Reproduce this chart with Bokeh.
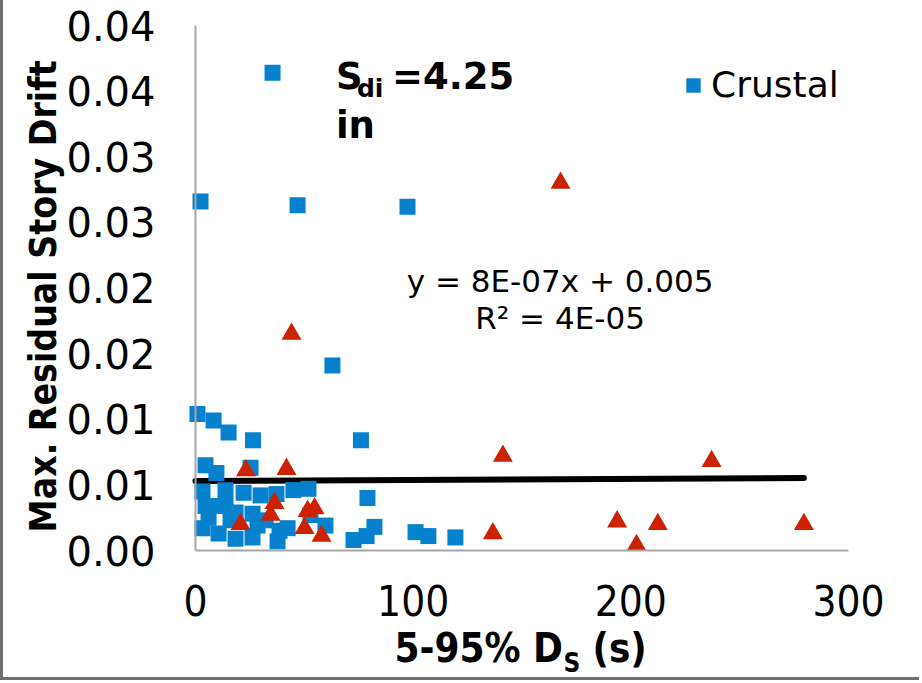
import math
from bokeh.plotting import figure
from bokeh.models import Label, Legend, LegendItem, FixedTicker, Range1d
from bokeh.embed import file_html
from bokeh.resources import INLINE

# Crustal records: 5-95% significant duration (s) vs. max residual story drift
crustal_ds = [35.4, 2.3, 46.9, 97.4, 62.9, 0.9, 8.3, 15.2, 26.4, 76.0,
              4.6, 9.6, 25.3, 3.2, 13.8, 22.1, 29.9, 37.2, 45.0, 51.9,
              79.0, 4.6, 6.0, 18.4, 26.2, 28.5, 52.8, 3.2, 10.6, 18.4,
              26.2, 37.7, 38.6, 42.3, 59.7, 72.6, 78.6, 82.2, 101.1, 107.0,
              119.4, 16.1, 32.2, 10.6, 13.8]
crustal_drift = [0.0364, 0.0266, 0.0263, 0.0262, 0.0141, 0.0104, 0.0099, 0.0090, 0.0084, 0.0084,
                 0.0065, 0.0059, 0.0063, 0.0045, 0.0046, 0.0044, 0.0042, 0.0043, 0.0046, 0.0047,
                 0.0040, 0.0034, 0.0025, 0.0029, 0.0028, 0.0019, 0.0027, 0.0017, 0.0013, 0.0009,
                 0.0010, 0.0007, 0.0015, 0.0017, 0.0019, 0.0008, 0.0011, 0.0018, 0.0014, 0.0011,
                 0.0010, 0.0023, 0.0023, 0.0034, 0.0034]

# Second record set (triangles)
other_ds = [167.7, 44.1, 141.2, 237.1, 193.7, 212.4, 279.5, 202.6, 136.6,
            23.2, 41.8, 36.3, 34.5, 20.7, 51.5, 54.7, 50.1, 57.9]
other_drift = [0.0280, 0.0165, 0.0072, 0.0068, 0.0022, 0.0020, 0.0020, 0.0004, 0.0013,
               0.0061, 0.0062, 0.0036, 0.0027, 0.0020, 0.0030, 0.0032, 0.0017, 0.0011]

# Linear trend line
trend_slope = 8e-7
trend_intercept = 0.0053

x_ticks = [0, 100, 200, 300]
y_ticks = [0.0, 0.005, 0.01, 0.015, 0.02, 0.025, 0.03, 0.035, 0.04]
y_tick_labels = ["0.00", "0.01", "0.01", "0.02", "0.02", "0.03", "0.03", "0.04", "0.04"]

X_MIN, X_MAX = 0, 300
Y_MIN, Y_MAX = 0.0, 0.04

BLUE = "#0681CD"
RED = "#CC2200"
AXIS_GRAY = "#A6A6A6"
TEXT_FONT = "DejaVu Sans"
NARROW_FONT = "DejaVu Sans Condensed, Roboto, sans-serif"

# Canvas size and where the data rectangle sits inside it (pixels)
W, H = 919, 680
AX_LEFT, AX_TOP, AX_W, AX_H = 192, 25, 653, 525
px_x = AX_W / (X_MAX - X_MIN)
px_y = AX_H / (Y_MAX - Y_MIN)

# The frame spans the whole canvas; axes are pinned at the data origin so the
# titles and labels around them stay inside the drawable area.
x_range = Range1d(X_MIN - AX_LEFT / px_x, X_MAX + (W - AX_LEFT - AX_W) / px_x)
y_range = Range1d(Y_MIN - (H - AX_TOP - AX_H) / px_y, Y_MAX + AX_TOP / px_y)

p = figure(width=W, height=H, x_range=x_range, y_range=y_range,
           output_backend="svg", toolbar_location=None, min_border=0)
p.styles = {"border-left": "3px solid #6E6E6E", "border-bottom": "3px solid #6E6E6E"}
p.grid.visible = False
p.outline_line_color = None
p.background_fill_color = "white"
p.border_fill_color = "white"

for ax in (p.xaxis[0], p.yaxis[0]):
    ax.fixed_location = 0
    ax.axis_line_color = AXIS_GRAY
    ax.axis_line_width = 2
    ax.major_tick_line_color = None
    ax.minor_tick_line_color = None
    ax.major_tick_out = 0
    ax.major_tick_in = 0
    ax.major_label_text_color = "black"

p.xaxis.bounds = (X_MIN, X_MAX)
p.yaxis.bounds = (Y_MIN, Y_MAX)

p.yaxis.ticker = FixedTicker(ticks=y_ticks)
p.yaxis.major_label_overrides = dict(zip(y_ticks, y_tick_labels))
p.yaxis.major_label_text_font = TEXT_FONT
p.yaxis.major_label_text_font_size = "40px"
p.yaxis.major_label_standoff = 40

p.xaxis.ticker = FixedTicker(ticks=x_ticks)
p.xaxis.major_label_text_font = NARROW_FONT
p.xaxis.major_label_text_font_size = "42px"
p.xaxis.major_label_standoff = 34

# Trend line across the data range
x_end = max(max(crustal_ds), max(other_ds))
p.line([0, x_end], [trend_intercept, trend_intercept + trend_slope * x_end],
       line_color="black", line_width=6, line_cap="round")

crustal = p.scatter(crustal_ds, crustal_drift, marker="square", size=16,
                    fill_color=BLUE, line_color=None)
p.scatter(other_ds, other_drift, marker="triangle", size=20,
          fill_color=RED, line_color=None)

legend = Legend(items=[LegendItem(label="Crustal", renderers=[crustal])],
                location=(480 + AX_LEFT, 445 + (H - AX_TOP - AX_H)),
                glyph_width=36, glyph_height=36,
                label_text_font=TEXT_FONT, label_text_font_size="36px",
                label_text_color="black",
                label_standoff=0, padding=0, margin=0, spacing=0,
                background_fill_alpha=0, border_line_alpha=0)
p.add_layout(legend)

# Regression equation
eq = dict(text_align="center", text_baseline="middle", text_font=TEXT_FONT,
          text_font_size="31px", text_color="black")
p.add_layout(Label(x=167.5, y=0.0205, text="y = 8E-07x + 0.005", **eq))
p.add_layout(Label(x=167.5, y=0.01775, text="R² = 4E-05", **eq))

# Spectral displacement note
note = dict(text_font=TEXT_FONT, text_font_style="bold", text_color="black",
            text_baseline="middle", text_align="left")
p.add_layout(Label(x=64.5, y=0.0361, text="S", text_font_size="37px", **note))
p.add_layout(Label(x=64.5, y=0.0361, x_offset=21, y_offset=-12, text="di",
                   text_font_size="25px", **note))
p.add_layout(Label(x=64.5, y=0.0361, x_offset=56, text="=4.25", text_font_size="37px", **note))
p.add_layout(Label(x=64.5, y=0.0324, text="in", text_font_size="37px", **note))

# Axis titles
title_style = dict(text_font=NARROW_FONT, text_font_style="bold", text_color="black",
                   text_baseline="middle", text_align="left")
p.add_layout(Label(x=149.3, y=-0.00745, x_offset=-126, text="5-95% D",
                   text_font_size="40px", **title_style))
p.add_layout(Label(x=149.3, y=-0.00745, x_offset=43, y_offset=-15, text="S",
                   text_font_size="26px", **title_style))
p.add_layout(Label(x=149.3, y=-0.00745, x_offset=72, text="(s)",
                   text_font_size="40px", **title_style))
p.add_layout(Label(x=-69.8, y=0.0198, text="Max.  Residual Story Drift", angle=math.pi / 2,
                   text_align="center", text_baseline="middle", text_font=NARROW_FONT,
                   text_font_style="bold", text_font_size="37px", text_color="black"))

open("out.html", "w").write(file_html(p, INLINE))
